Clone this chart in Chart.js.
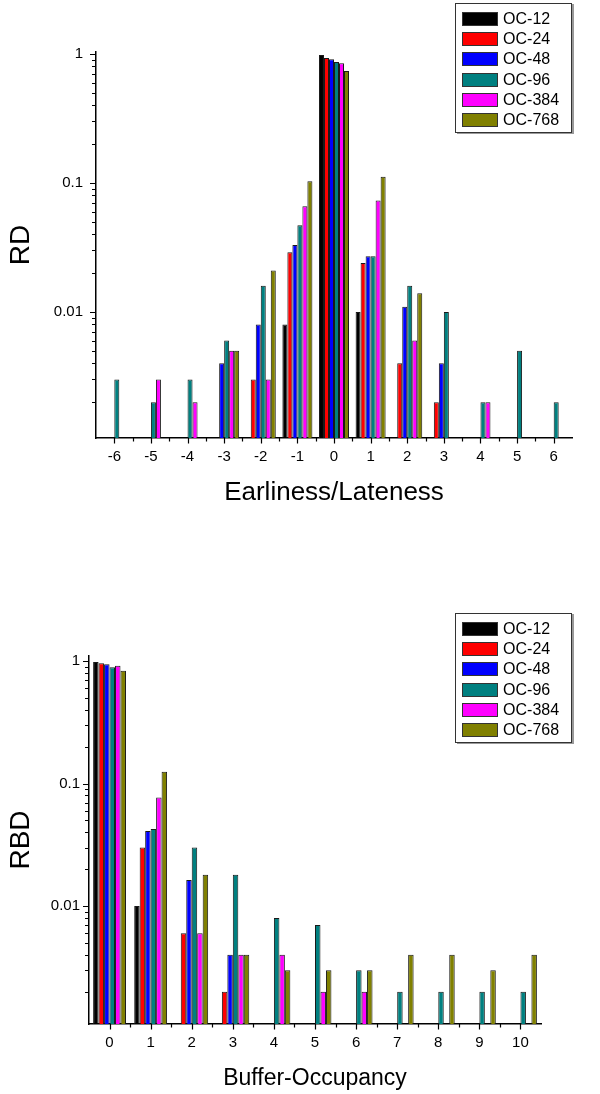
<!DOCTYPE html>
<html><head><meta charset="utf-8">
<script src="https://cdn.jsdelivr.net/npm/chart.js@4.4.1/dist/chart.umd.min.js"></script>
<style>
html,body{margin:0;padding:0;background:#fff;width:600px;height:1094px;overflow:hidden;font-family:"Liberation Sans",Arial,sans-serif;}
.wrap{position:absolute;left:0;width:600px;}
.legend{position:absolute;left:455px;width:117px;height:130px;background:#fff;border:1px solid #333;box-shadow:2px 1px 0 #999;box-sizing:border-box;padding:5px 0 0 5.5px;}
.legend .row{display:flex;align-items:center;height:20.2px;font-size:16px;color:#000;line-height:1;}
.legend .sw{width:36.6px;height:14px;border:1px solid #333;margin-right:5px;box-sizing:border-box;flex:none;}
</style></head>
<body>
<div class="wrap" style="top:0;height:540px;"><canvas id="c1" width="600" height="540"></canvas></div>
<div class="wrap" style="top:540px;height:554px;"><canvas id="c2" width="600" height="554"></canvas></div>
<div class="legend" id="lg1" style="top:3px;"></div>
<div class="legend" id="lg2" style="top:613px;"></div>
<script>
// ---- data ----
const seriesNames = ['OC-12','OC-24','OC-48','OC-96','OC-384','OC-768'];
const seriesColors = ['#000000','#ff0000','#0000ff','#008080','#ff00ff','#808000'];

// Top chart: Earliness/Lateness vs RD
const rdCategories = ['-6','-5','-4','-3','-2','-1','0','1','2','3','4','5','6'];
const rdOC12  = [null, null, null, null,  null,  0.008, 0.98,  0.010, null,  null,  null,  null,  null];
const rdOC24  = [null, null, null, null,  0.003, 0.029, 0.93,  0.024, 0.004, 0.002, null,  null,  null];
const rdOC48  = [null, null, null, 0.004, 0.008, 0.033, 0.91,  0.027, 0.011, 0.004, null,  null,  null];
const rdOC96  = [0.003,0.002,0.003,0.006, 0.016, 0.047, 0.867, 0.027, 0.016, 0.010, 0.002, 0.005, 0.002];
const rdOC384 = [null, 0.003,0.002,0.005, 0.003, 0.066, 0.847, 0.073, 0.006, null,  0.002, null,  null];
const rdOC768 = [null, null, null, 0.005, 0.021, 0.103, 0.738, 0.112, 0.014, null,  null,  null,  null];

// Bottom chart: Buffer-Occupancy vs RBD
const rbdCategories = ['0','1','2','3','4','5','6','7','8','9','10'];
const rbdOC12  = [0.98,  0.010, null,   null,  null,  null,  null,  null,  null,  null,  null];
const rbdOC24  = [0.957, 0.030, 0.006,  0.002, null,  null,  null,  null,  null,  null,  null];
const rbdOC48  = [0.94,  0.041, 0.0163, 0.004, null,  null,  null,  null,  null,  null,  null];
const rbdOC96  = [0.89,  0.0425,0.030,  0.018, 0.008, 0.007, 0.003, 0.002, 0.002, 0.002, 0.002];
const rbdOC384 = [0.915, 0.077, 0.006,  0.004, 0.004, 0.002, 0.002, null,  null,  null,  null];
const rbdOC768 = [0.834, 0.125, 0.018,  0.004, 0.003, 0.003, 0.003, 0.004, 0.004, 0.003, 0.004];

const yMajorLabels = ['1','0.1','0.01'];

// ---- helpers ----
const FONT = '"Liberation Sans", Arial, sans-serif';

const tickMarks = {
  id: 'tickMarks',
  afterDraw(chart) {
    const {ctx, scales: {x, y}, chartArea: a} = chart;
    ctx.save();
    ctx.strokeStyle = '#000';
    ctx.lineWidth = 1.2;
    ctx.beginPath();
    const n = x.ticks.length;
    for (let i = 0; i < n; i++) {
      const px = Math.round(x.getPixelForTick(i)) + 0.5;
      ctx.moveTo(px, a.bottom); ctx.lineTo(px, a.bottom + 5.5);
      if (i < n - 1) {
        const m = Math.round((x.getPixelForTick(i) + x.getPixelForTick(i + 1)) / 2) + 0.5;
        ctx.moveTo(m, a.bottom); ctx.lineTo(m, a.bottom + 3.5);
      }
    }
    for (let e = -3; e <= 0; e++) {
      for (let k = 1; k <= 9; k++) {
        const v = k * Math.pow(10, e);
        if (v < y.min || v > y.max) continue;
        const py = Math.round(y.getPixelForValue(v)) + 0.5;
        const len = k === 1 ? 6 : 4;
        ctx.moveTo(a.left, py); ctx.lineTo(a.left - len, py);
      }
    }
    ctx.stroke();
    ctx.restore();
  }
};

function makeDatasets(arrays) {
  return arrays.map((d, i) => ({
    label: seriesNames[i],
    data: d,
    backgroundColor: seriesColors[i],
    borderColor: '#1a1a1a',
    borderWidth: 1,
  }));
}

function logLabel(v) {
  const l = Math.log10(v);
  if (Math.abs(l - Math.round(l)) < 1e-9) {
    const idx = -Math.round(l);
    return yMajorLabels[idx] !== undefined ? yMajorLabels[idx] : '';
  }
  return '';
}

function makeChart(id, labels, arrays, cfg) {
  return new Chart(document.getElementById(id), {
    type: 'bar',
    data: { labels: labels, datasets: makeDatasets(arrays) },
    plugins: [tickMarks],
    options: {
      responsive: false,
      animation: false,
      events: [],
      layout: { padding: cfg.padding },
      datasets: { bar: { categoryPercentage: cfg.catPct, barPercentage: 1 } },
      plugins: { legend: { display: false }, tooltip: { enabled: false } },
      scales: {
        x: {
          type: 'category',
          offset: true,
          grid: { display: false, drawTicks: false },
          border: { display: true, color: '#000', width: 1.5 },
          ticks: { autoSkip: false, maxRotation: 0, color: '#000', padding: cfg.xPad, font: { family: FONT, size: cfg.xTickSize } },
          title: { display: true, text: cfg.xTitle, color: '#000', padding: { top: 4, bottom: 0 }, font: { family: FONT, size: cfg.xTitleSize } },
          afterFit(s) { s.height = cfg.xHeight; }
        },
        y: {
          type: 'logarithmic',
          min: cfg.yMin, max: cfg.yMax,
          grid: { display: false, drawTicks: false },
          border: { display: true, color: '#000', width: 1.5 },
          ticks: { autoSkip: false, color: '#000', padding: cfg.yPad, font: { family: FONT, size: 15 }, callback: (v) => logLabel(v) },
          title: { display: true, text: cfg.yTitle, color: '#000', padding: { top: 4, bottom: 0 }, font: { family: FONT, size: cfg.yTitleSize } },
          afterFit(s) { s.width = cfg.yWidth; }
        }
      }
    }
  });
}

function makeLegend(id) {
  const el = document.getElementById(id);
  seriesNames.forEach((name, i) => {
    const row = document.createElement('div'); row.className = 'row';
    const sw = document.createElement('div'); sw.className = 'sw'; sw.style.background = seriesColors[i];
    const t = document.createElement('span'); t.textContent = name;
    row.appendChild(sw); row.appendChild(t); el.appendChild(row);
  });
}

makeChart('c1', rdCategories, [rdOC12, rdOC24, rdOC48, rdOC96, rdOC384, rdOC768], {
  padding: { left: 0, top: 52, right: 28, bottom: 32 },
  catPct: 0.82, xPad: 10, xTickSize: 15, xTitle: 'Earliness/Lateness', xTitleSize: 26, xHeight: 70,
  yMin: 0.001055, yMax: 1.036, yPad: 13, yTitle: 'RD', yTitleSize: 28, yWidth: 96
});
makeChart('c2', rbdCategories, [rbdOC12, rbdOC24, rbdOC48, rbdOC96, rbdOC384, rbdOC768], {
  padding: { left: 0, top: 116, right: 59, bottom: 2 },
  catPct: 0.8, xPad: 10, xTickSize: 15, xTitle: 'Buffer-Occupancy', xTitleSize: 23, xHeight: 68,
  yMin: 0.00109, yMax: 1.099, yPad: 9, yTitle: 'RBD', yTitleSize: 28, yWidth: 89
});
makeLegend('lg1');
makeLegend('lg2');
</script>
</body></html>
